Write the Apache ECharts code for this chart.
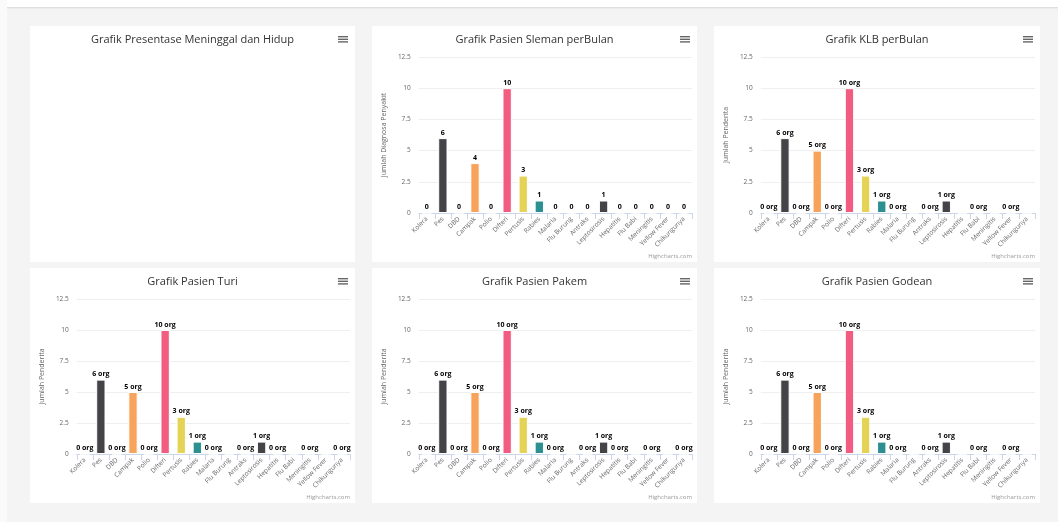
<!DOCTYPE html>
<html>
<head>
<meta charset="utf-8">
<script src="https://cdn.jsdelivr.net/npm/echarts@6/dist/echarts.min.js"></script>
<style>
  html, body { margin: 0; padding: 0; }
  body {
    width: 1058px; height: 522px; position: relative; overflow: hidden;
    background: #f4f4f4; font-family: "Open Sans", sans-serif;
  }
  .topbar {
    position: absolute; left: 0; top: 0; width: 1058px; height: 7px;
    background: #fff; box-shadow: 0 1px 2px rgba(0,0,0,0.12);
  }
  .sidebar {
    position: absolute; left: 0; top: 0; width: 7px; height: 522px; background: #fafafa;
  }
  .card { position: absolute; background: #fff; }
</style>
</head>
<body>
<div class="topbar"></div>
<div class="sidebar"></div>
<div class="card" id="c0" style="left:30px;top:26px;width:325px;height:236px"></div>
<div class="card" id="c1" style="left:372px;top:26px;width:325px;height:236px"></div>
<div class="card" id="c2" style="left:714px;top:26px;width:326px;height:236px"></div>
<div class="card" id="c3" style="left:30px;top:268px;width:325px;height:235px"></div>
<div class="card" id="c4" style="left:372px;top:268px;width:325px;height:235px"></div>
<div class="card" id="c5" style="left:714px;top:268px;width:326px;height:235px"></div>
<script>
// Disease categories shared by all bar charts
const categories = ['Kolera', 'Pes', 'DBD', 'Campak', 'Polio', 'Difteri', 'Pertusis', 'Rabies',
  'Malaria', 'Flu Burung', 'Antraks', 'Leptosirosis', 'Hepatitis', 'Flu Babi', 'Meningitis',
  'Yellow Fever', 'Chikungunya'];

// Patient counts per disease
const slemanValues = [0, 6, 0, 4, 0, 10, 3, 1, 0, 0, 0, 1, 0, 0, 0, 0, 0];
const klbValues    = [0, 6, 0, 5, 0, 10, 3, 1, 0, 0, 0, 1, 0, 0, 0, 0, 0];
const turiValues   = [0, 6, 0, 5, 0, 10, 3, 1, 0, 0, 0, 1, 0, 0, 0, 0, 0];
const pakemValues  = [0, 6, 0, 5, 0, 10, 3, 1, 0, 0, 0, 1, 0, 0, 0, 0, 0];
const godeanValues = [0, 6, 0, 5, 0, 10, 3, 1, 0, 0, 0, 1, 0, 0, 0, 0, 0];

// Value axis range and step
const yMin = 0, yMax = 12.5, yStep = 2.5;

// Default Highcharts-style palette, one colour per bar
const palette = ['#7cb5ec', '#434348', '#90ed7d', '#f7a35c', '#8085e9', '#f15c80', '#e4d354',
  '#2b908f', '#f45b5b', '#91e8e1'];

const FONT = '"Open Sans", "DejaVu Sans", sans-serif';

// Three-line context menu button in the top-right corner
function menuIcon() {
  return {
    type: 'group', right: 7, top: 10,
    children: [0, 2.6, 5.2].map(dy => ({
      type: 'rect', shape: { x: 0, y: dy, width: 10, height: 1.4 },
      style: { fill: '#666' }
    }))
  };
}

function credits() {
  return {
    type: 'text', right: 5, bottom: 3,
    style: { text: 'Highcharts.com', fill: '#999', font: '6px ' + FONT }
  };
}

function titleOpt(text) {
  return {
    text: text, left: 'center', top: 3,
    textStyle: { fontFamily: FONT, fontSize: 11, fontWeight: 'normal', color: '#333' }
  };
}

function barChart(el, title, yName, values, suffix) {
  const chart = echarts.init(document.getElementById(el), null, { renderer: 'canvas' });
  chart.setOption({
    animation: false,
    color: palette,
    title: titleOpt(title),
    grid: { left: 46, right: 5, top: 31, bottom: 49, containLabel: false },
    xAxis: {
      type: 'category', data: categories,
      axisLine: { lineStyle: { color: '#ccd6eb', width: 1 } },
      axisTick: { show: true, length: 6, lineStyle: { color: '#ccd6eb' } },
      axisLabel: { interval: 0, rotate: 45, fontSize: 6.5, color: '#666', margin: 5, fontFamily: FONT }
    },
    yAxis: {
      type: 'value', min: yMin, max: yMax, interval: yStep,
      name: yName, nameLocation: 'middle', nameGap: 29, nameRotate: 90,
      nameTextStyle: { fontSize: 7, color: '#666', fontFamily: FONT },
      axisLine: { show: false }, axisTick: { show: false },
      axisLabel: { fontSize: 6.5, color: '#666', margin: 8, fontFamily: FONT },
      splitLine: { lineStyle: { color: '#efefef', width: 1 } }
    },
    series: [{
      type: 'bar', data: values, colorBy: 'data', barWidth: '58%',
      itemStyle: { borderColor: '#fff', borderWidth: 1 },
      label: {
        show: true, position: 'top', distance: 2,
        formatter: p => p.value + suffix,
        fontSize: 7, fontWeight: 'bold', color: '#000', fontFamily: FONT,
        textBorderColor: '#fff', textBorderWidth: 2
      },
      labelLayout: { hideOverlap: true }
    }],
    graphic: [menuIcon(), credits()]
  });
}

// Empty percentage panel: title and menu only
const first = echarts.init(document.getElementById('c0'));
first.setOption({
  animation: false,
  title: titleOpt('Grafik Presentase Meninggal dan Hidup'),
  graphic: [menuIcon()]
});

barChart('c1', 'Grafik Pasien Sleman perBulan', 'Jumlah Diagnosa Penyakit', slemanValues, '');
barChart('c2', 'Grafik KLB perBulan', 'Jumlah Penderita', klbValues, ' org');
barChart('c3', 'Grafik Pasien Turi', 'Jumlah Penderita', turiValues, ' org');
barChart('c4', 'Grafik Pasien Pakem', 'Jumlah Penderita', pakemValues, ' org');
barChart('c5', 'Grafik Pasien Godean', 'Jumlah Penderita', godeanValues, ' org');
</script>
</body>
</html>
